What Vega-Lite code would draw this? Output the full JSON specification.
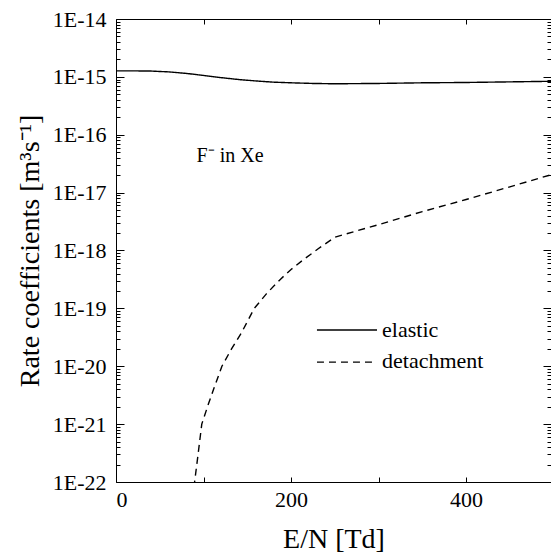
{
  "$schema": "https://vega.github.io/schema/vega-lite/v6.json",
  "width": 435,
  "height": 463,
  "autosize": {"type": "none"},
  "padding": {"left": 116, "top": 19, "right": 0, "bottom": 72},
  "config": {
    "view": {"stroke": null},
    "font": "Liberation Serif",
    "axis": {
      "grid": false,
      "domainColor": "black",
      "domainWidth": 1,
      "tickColor": "black",
      "tickWidth": 1,
      "labelColor": "black",
      "labelFont": "Liberation Serif",
      "labelFontSize": 22,
      "titleFont": "Liberation Serif",
      "titleFontSize": 28,
      "titleFontWeight": "normal",
      "titleColor": "black"
    }
  },
  "data": {
    "values": [
      {"series": "elastic", "E": 0, "k": 1.27e-15},
      {"series": "elastic", "E": 20, "k": 1.27e-15},
      {"series": "elastic", "E": 40, "k": 1.26e-15},
      {"series": "elastic", "E": 60, "k": 1.22e-15},
      {"series": "elastic", "E": 80, "k": 1.15e-15},
      {"series": "elastic", "E": 100, "k": 1.06e-15},
      {"series": "elastic", "E": 120, "k": 9.7e-16},
      {"series": "elastic", "E": 140, "k": 9.0e-16},
      {"series": "elastic", "E": 160, "k": 8.5e-16},
      {"series": "elastic", "E": 180, "k": 8.1e-16},
      {"series": "elastic", "E": 200, "k": 7.9e-16},
      {"series": "elastic", "E": 225, "k": 7.7e-16},
      {"series": "elastic", "E": 250, "k": 7.6e-16},
      {"series": "elastic", "E": 300, "k": 7.7e-16},
      {"series": "elastic", "E": 350, "k": 7.9e-16},
      {"series": "elastic", "E": 400, "k": 8.0e-16},
      {"series": "elastic", "E": 450, "k": 8.2e-16},
      {"series": "elastic", "E": 500, "k": 8.4e-16},
      {"series": "detachment", "E": 89, "k": 8e-23},
      {"series": "detachment", "E": 94, "k": 3.2e-22},
      {"series": "detachment", "E": 98, "k": 1e-21},
      {"series": "detachment", "E": 105, "k": 2.1e-21},
      {"series": "detachment", "E": 112, "k": 4.2e-21},
      {"series": "detachment", "E": 121, "k": 1e-20},
      {"series": "detachment", "E": 132, "k": 2e-20},
      {"series": "detachment", "E": 143, "k": 3.7e-20},
      {"series": "detachment", "E": 158, "k": 1e-19},
      {"series": "detachment", "E": 172, "k": 1.8e-19},
      {"series": "detachment", "E": 188, "k": 3.2e-19},
      {"series": "detachment", "E": 200, "k": 4.7e-19},
      {"series": "detachment", "E": 215, "k": 7.1e-19},
      {"series": "detachment", "E": 231, "k": 1.07e-18},
      {"series": "detachment", "E": 250, "k": 1.7e-18},
      {"series": "detachment", "E": 300, "k": 2.8e-18},
      {"series": "detachment", "E": 350, "k": 4.7e-18},
      {"series": "detachment", "E": 400, "k": 7.6e-18},
      {"series": "detachment", "E": 450, "k": 1.26e-17},
      {"series": "detachment", "E": 500, "k": 2.1e-17}
    ]
  },
  "layer": [
    {
      "mark": {"type": "line", "color": "black", "strokeWidth": 1.4, "clip": true},
      "encoding": {
        "x": {
          "field": "E", "type": "quantitative",
          "scale": {"domain": [0, 497], "nice": false, "zero": false},
          "axis": {
            "orient": "bottom",
            "values": [0, 100, 200, 300, 400],
            "labelExpr": "datum.value % 200 == 0 ? datum.label : ''",
            "tickSize": -5,
            "labelPadding": 12,
            "title": "E/N [Td]",
            "titlePadding": 15
          }
        },
        "y": {
          "field": "k", "type": "quantitative",
          "scale": {"type": "log", "domain": [1e-22, 1e-14], "nice": false},
          "axis": {
            "orient": "left",
            "values": [1e-22,2e-22,3e-22,4e-22,5e-22,6e-22,7e-22,8e-22,9e-22,1e-21,2e-21,3e-21,4e-21,5e-21,6e-21,7e-21,8e-21,9e-21,1e-20,2e-20,3e-20,4e-20,5e-20,6e-20,7e-20,8e-20,9e-20,1e-19,2e-19,3e-19,4e-19,5e-19,6e-19,7e-19,8e-19,9e-19,1e-18,2e-18,3e-18,4e-18,5e-18,6e-18,7e-18,8e-18,9e-18,1e-17,2e-17,3e-17,4e-17,5e-17,6e-17,7e-17,8e-17,9e-17,1e-16,2e-16,3e-16,4e-16,5e-16,6e-16,7e-16,8e-16,9e-16,1e-15,2e-15,3e-15,4e-15,5e-15,6e-15,7e-15,8e-15,9e-15,1e-14],
            "labelExpr": "abs(log(datum.value)/LN10 - round(log(datum.value)/LN10)) < 0.001 ? '1E' + round(log(datum.value)/LN10) : ''",
            "tickSize": {"condition": {"test": "abs(log(datum.value)/LN10 - round(log(datum.value)/LN10)) < 0.001", "value": -8}, "value": -4},
            "labelPadding": 18,
            "title": "Rate coefficients [m³s⁻¹]",
            "titlePadding": 8
          }
        },
        "strokeDash": {
          "field": "series", "type": "nominal",
          "scale": {"domain": ["elastic", "detachment"], "range": [[1, 0], [7, 5]]},
          "legend": null
        }
      }
    },
    {
      "data": {"values": [{"label": "F⁻ in Xe"}]},
      "mark": {"type": "text", "align": "left", "baseline": "alphabetic", "fontSize": 20, "font": "Liberation Serif", "color": "black"},
      "encoding": {
        "x": {
          "datum": 92, "type": "quantitative",
          "axis": {"orient": "top", "values": [0, 100, 200, 300, 400], "labels": false, "tickSize": -5, "title": null}
        },
        "y": {
          "datum": 3.4e-17, "type": "quantitative",
          "scale": {"type": "log"},
          "axis": {
            "orient": "right", "domain": false, "labels": false, "title": null,
            "values": [1e-22,2e-22,3e-22,4e-22,5e-22,6e-22,7e-22,8e-22,9e-22,1e-21,2e-21,3e-21,4e-21,5e-21,6e-21,7e-21,8e-21,9e-21,1e-20,2e-20,3e-20,4e-20,5e-20,6e-20,7e-20,8e-20,9e-20,1e-19,2e-19,3e-19,4e-19,5e-19,6e-19,7e-19,8e-19,9e-19,1e-18,2e-18,3e-18,4e-18,5e-18,6e-18,7e-18,8e-18,9e-18,1e-17,2e-17,3e-17,4e-17,5e-17,6e-17,7e-17,8e-17,9e-17,1e-16,2e-16,3e-16,4e-16,5e-16,6e-16,7e-16,8e-16,9e-16,1e-15,2e-15,3e-15,4e-15,5e-15,6e-15,7e-15,8e-15,9e-15,1e-14],
            "tickSize": {"condition": {"test": "abs(log(datum.value)/LN10 - round(log(datum.value)/LN10)) < 0.001", "value": -8}, "value": -4}
          }
        },
        "text": {"field": "label", "type": "nominal"}
      }
    },
    {
      "data": {"values": [{"series": "elastic"}]},
      "mark": {"type": "rule", "color": "black", "strokeWidth": 1.4},
      "encoding": {
        "x": {"datum": 229.6, "type": "quantitative", "axis": null},
        "x2": {"datum": 298.2},
        "y": {"datum": 4.23e-20, "type": "quantitative", "scale": {"type": "log"}, "axis": null}
      }
    },
    {
      "data": {"values": [{"series": "detachment"}]},
      "mark": {"type": "rule", "color": "black", "strokeWidth": 1.4, "strokeDash": [7, 5]},
      "encoding": {
        "x": {"datum": 229.6, "type": "quantitative", "axis": null},
        "x2": {"datum": 298.2},
        "y": {"datum": 1.18e-20, "type": "quantitative", "scale": {"type": "log"}, "axis": null}
      }
    },
    {
      "data": {"values": [{"series": "elastic"}]},
      "mark": {"type": "text", "align": "left", "baseline": "alphabetic", "fontSize": 22, "font": "Liberation Serif", "color": "black"},
      "encoding": {
        "x": {"datum": 304, "type": "quantitative", "axis": null},
        "y": {"datum": 3.2e-20, "type": "quantitative", "scale": {"type": "log"}, "axis": null},
        "text": {"field": "series", "type": "nominal"}
      }
    },
    {
      "data": {"values": [{"series": "detachment"}]},
      "mark": {"type": "text", "align": "left", "baseline": "alphabetic", "fontSize": 22, "font": "Liberation Serif", "color": "black"},
      "encoding": {
        "x": {"datum": 304, "type": "quantitative", "axis": null},
        "y": {"datum": 9.3e-21, "type": "quantitative", "scale": {"type": "log"}, "axis": null},
        "text": {"field": "series", "type": "nominal"}
      }
    }
  ],
  "resolve": {"axis": {"x": "independent", "y": "independent"}}
}
